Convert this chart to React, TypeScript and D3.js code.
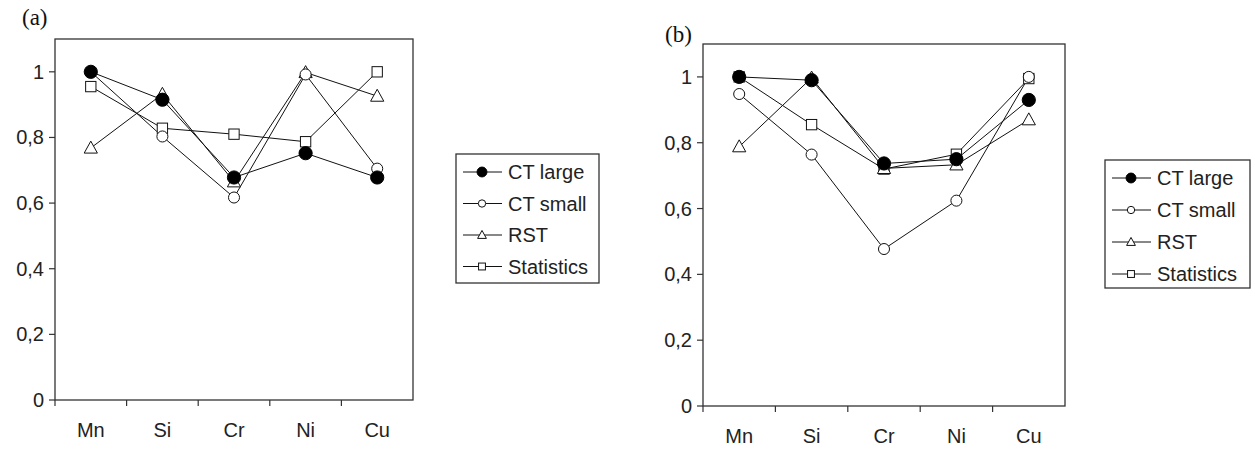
import React, { useRef, useEffect } from "react";
import * as d3 from "d3";

// categories (elements) and tick labels
const elements = ["Mn", "Si", "Cr", "Ni", "Cu"];
const yTicks = [0, 0.2, 0.4, 0.6, 0.8, 1];

// panel (a)
const aCtLarge = [1.0, 0.915, 0.678, 0.752, 0.678];
const aCtSmall = [1.0, 0.803, 0.617, 0.992, 0.705];
const aRst = [0.768, 0.932, 0.665, 0.998, 0.926];
const aStats = [0.955, 0.828, 0.81, 0.787, 1.0];

// panel (b)
const bCtLarge = [1.0, 0.99, 0.737, 0.75, 0.93];
const bCtSmall = [0.948, 0.764, 0.477, 0.624, 1.0];
const bRst = [0.788, 0.997, 0.722, 0.733, 0.87];
const bStats = [1.0, 0.855, 0.72, 0.765, 0.995];

const seriesNames = ["CT large", "CT small", "RST", "Statistics"];
const seriesMarkers = ["dot", "circle", "triangle", "square"];

const FONT = "'Liberation Sans', Arial, sans-serif";

export default function App() {
    const svgRef = useRef(null);

    useEffect(() => {
        document.body.style.margin = "0";
        const svg = d3.select(svgRef.current);
        svg.selectAll("*").remove();
        svg.append("rect").attr("width", 1255).attr("height", 450).attr("fill", "#fff");

        const drawMarker = (g, kind, cx, cy, s) => {
            if (kind === "dot") {
                g.append("circle").attr("cx", cx).attr("cy", cy).attr("r", s * 0.55)
                    .attr("fill", "#000").attr("stroke", "#000");
            } else if (kind === "circle") {
                g.append("circle").attr("cx", cx).attr("cy", cy).attr("r", s * 0.46)
                    .attr("fill", "#fff").attr("stroke", "#111").attr("stroke-width", 1);
            } else if (kind === "triangle") {
                const h = s * 0.95;
                g.append("path")
                    .attr("d", `M${cx},${cy - h * 0.6}L${cx + s * 0.55},${cy + h * 0.45}L${cx - s * 0.55},${cy + h * 0.45}Z`)
                    .attr("fill", "#fff").attr("stroke", "#111").attr("stroke-width", 1);
            } else {
                g.append("rect").attr("x", cx - s * 0.43).attr("y", cy - s * 0.43)
                    .attr("width", s * 0.86).attr("height", s * 0.86)
                    .attr("fill", "#fff").attr("stroke", "#111").attr("stroke-width", 1);
            }
        };

        const panel = (opts) => {
            const { left, right, top, bottom, series, label, labelX, labelY, legend } = opts;
            const g = svg.append("g");

            const x = d3.scaleBand().domain(elements).range([left, right]).paddingInner(0).paddingOuter(0);
            const y = d3.scaleLinear().domain([0, 1.1]).range([bottom, top]);

            // frame
            g.append("rect").attr("x", left).attr("y", top)
                .attr("width", right - left).attr("height", bottom - top)
                .attr("fill", "none").attr("stroke", "#333").attr("stroke-width", 1.3);

            // y axis ticks + labels
            yTicks.forEach((t) => {
                g.append("line").attr("x1", left - 6).attr("x2", left)
                    .attr("y1", y(t)).attr("y2", y(t)).attr("stroke", "#333").attr("stroke-width", 1.2);
                g.append("text").attr("x", left - 11).attr("y", y(t)).attr("dy", "0.35em")
                    .attr("text-anchor", "end").style("font-family", FONT).style("font-size", "20px")
                    .attr("fill", "#222").text(String(t).replace(".", ","));
            });

            // x axis ticks + labels
            elements.forEach((c) => {
                g.append("line").attr("x1", x(c)).attr("x2", x(c))
                    .attr("y1", bottom).attr("y2", bottom + 6).attr("stroke", "#333").attr("stroke-width", 1.2);
                g.append("text").attr("x", x(c) + x.bandwidth() / 2).attr("y", bottom + 37)
                    .attr("text-anchor", "middle").style("font-family", FONT).style("font-size", "20px")
                    .attr("fill", "#222").text(c);
            });

            const line = d3.line()
                .x((d, i) => x(elements[i]) + x.bandwidth() / 2)
                .y((d) => y(d));

            // draw Statistics first, CT large last (on top)
            [3, 2, 1, 0].forEach((si) => {
                g.append("path").datum(series[si]).attr("d", line)
                    .attr("fill", "none").attr("stroke", "#111").attr("stroke-width", 1);
            });
            [3, 2, 1, 0].forEach((si) => {
                series[si].forEach((v, i) => {
                    drawMarker(g, seriesMarkers[si], x(elements[i]) + x.bandwidth() / 2, y(v), 12);
                });
            });

            // panel label
            g.append("text").attr("x", labelX).attr("y", labelY)
                .style("font-family", "'Liberation Serif', 'Times New Roman', serif")
                .style("font-size", "23px").attr("fill", "#111").text(label);

            // legend
            const lg = svg.append("g");
            lg.append("rect").attr("x", legend.x).attr("y", legend.y)
                .attr("width", legend.w).attr("height", legend.h)
                .attr("fill", "#fff").attr("stroke", "#333").attr("stroke-width", 1.3);
            seriesNames.forEach((name, i) => {
                const ry = legend.y + 18 + i * legend.step;
                lg.append("line").attr("x1", legend.x + 7).attr("x2", legend.x + 46)
                    .attr("y1", ry).attr("y2", ry).attr("stroke", "#111").attr("stroke-width", 1);
                drawMarker(lg, seriesMarkers[i], legend.x + 26, ry, i === 0 ? 9 : 8);
                lg.append("text").attr("x", legend.x + 52).attr("y", ry).attr("dy", "0.35em")
                    .style("font-family", FONT).style("font-size", "20px").attr("fill", "#222").text(name);
            });
        };

        panel({
            left: 55, right: 413, top: 39, bottom: 400,
            series: [aCtLarge, aCtSmall, aRst, aStats],
            label: "(a)", labelX: 22, labelY: 25,
            legend: { x: 456, y: 154, w: 143, h: 129, step: 31.5 },
        });
        panel({
            left: 703, right: 1065, top: 44, bottom: 406,
            series: [bCtLarge, bCtSmall, bRst, bStats],
            label: "(b)", labelX: 665, labelY: 42,
            legend: { x: 1105, y: 160, w: 145, h: 128, step: 32 },
        });
    }, []);

    return (
        <svg ref={svgRef} width={1255} height={450}
            style={{ position: "absolute", left: 0, top: 0, display: "block" }} />
    );
}
